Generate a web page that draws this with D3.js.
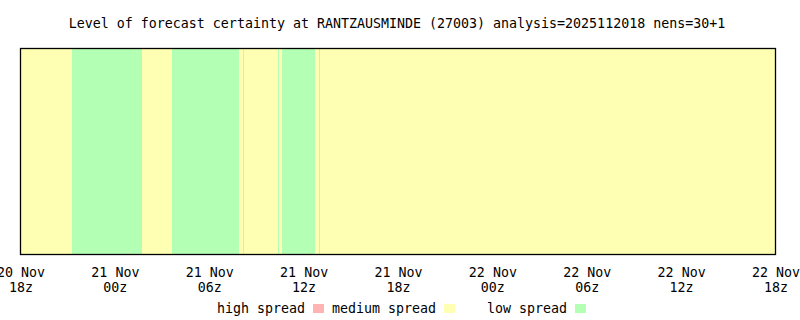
<!DOCTYPE html>
<html><head><meta charset="utf-8">
<script src="https://cdn.jsdelivr.net/npm/d3@7"></script>
<style>body{margin:0;background:#fff}svg{display:block}text{font-family:"DejaVu Sans Mono","Liberation Mono",monospace;font-size:13.3px;fill:#000}</style>
</head><body><svg id="c" width="800" height="320"></svg>
<script>
// hours after analysis time 2025-11-20 18z
const segStart = [0, 3.28, 7.73, 9.64, 13.91, 14.15, 14.21, 16.35, 16.41, 16.65, 18.75, 19.0, 19.06];
const segEnd   = [3.28, 7.73, 9.64, 13.91, 14.15, 14.21, 16.35, 16.41, 16.65, 18.75, 19.0, 19.06, 48];
const segLevel = ["medium","low","medium","low","medium","low","medium","low","medium","low","medium","low","medium"];
const tickHours = [0, 6, 12, 18, 24, 30, 36, 42, 48];
const tickDay = ["20 Nov","21 Nov","21 Nov","21 Nov","21 Nov","22 Nov","22 Nov","22 Nov","22 Nov"];
const tickHour = ["18z","00z","06z","12z","18z","00z","06z","12z","18z"];
const legendNames = ["high spread","medium spread","low spread"];
const legendKeys = ["high","medium","low"];
const title = "Level of forecast certainty at RANTZAUSMINDE (27003) analysis=2025112018 nens=30+1";

(function(){
const color = d3.scaleOrdinal().domain(["high","medium","low"]).range(["#ffb3b3","#ffffb3","#b3ffb3"]);
const svg = d3.select("#c");
const x = d3.scaleLinear().domain([0,48]).range([20.5,775.5]);
const y0 = 48.5, y1 = 254.5;

svg.append("text").attr("x",397).attr("y",28).attr("text-anchor","middle").text(title);

const segs = segStart.map((s,i)=>({s, e:segEnd[i], l:segLevel[i]}));
svg.append("g").selectAll("rect").data(segs).join("rect")
  .attr("x",d=>x(d.s)).attr("y",y0)
  .attr("width",d=>Math.max(1,x(d.e)-x(d.s))).attr("height",y1-y0)
  .attr("fill",d=>color(d.l)).attr("shape-rendering","crispEdges");

svg.append("rect").attr("x",x(0)).attr("y",y0).attr("width",x(48)-x(0)).attr("height",y1-y0)
  .attr("fill","none").attr("stroke","#000").attr("stroke-width",1.3);

const ax = svg.append("g").attr("transform",`translate(0,${y1})`)
  .call(d3.axisBottom(x).tickValues(tickHours).tickSize(0).tickFormat(""));
ax.select(".domain").remove();
ax.selectAll(".tick").each(function(d,i){
  const t = d3.select(this).append("text").attr("text-anchor","middle").attr("fill","#000").attr("font-size",13.3);
  t.append("tspan").attr("x",0).attr("y",22).text(tickDay[i]);
  t.append("tspan").attr("x",0).attr("y",37).text(tickHour[i]);
});

const lx = [217, 332, 487], bx = [313, 444, 575];
legendKeys.forEach((k,i)=>{
  svg.append("text").attr("x",lx[i]).attr("y",313).text(legendNames[i]);
  svg.append("rect").attr("x",bx[i]).attr("y",304).attr("width",11).attr("height",9).attr("fill",color(k));
});
})();
</script></body></html>
